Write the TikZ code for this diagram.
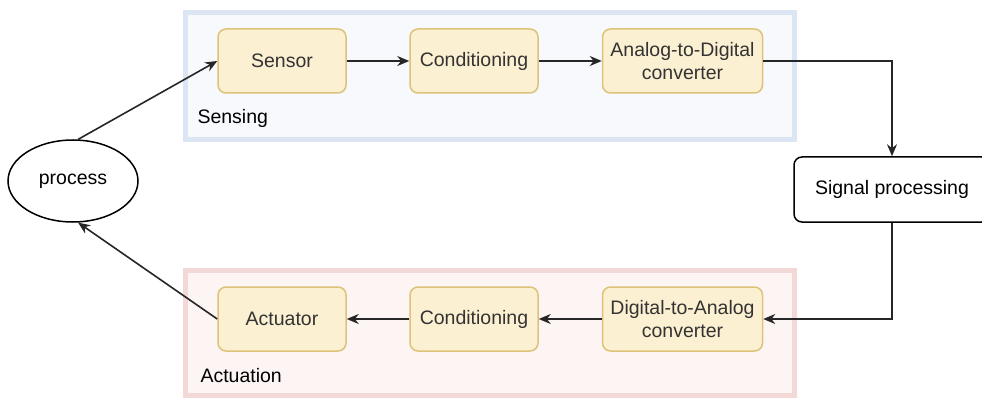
\documentclass[tikz,border=0pt]{standalone}
\usepackage{fontspec}
\setmainfont{Liberation Sans}
\usetikzlibrary{arrows.meta,shapes.geometric}
\definecolor{stagefill}{HTML}{FCF0D2}
\definecolor{stageline}{HTML}{DDC27A}
\definecolor{senseline}{HTML}{DCE5F4}
\definecolor{sensefill}{HTML}{F7F9FD}
\definecolor{actline}{HTML}{F3D8D8}
\definecolor{actfill}{HTML}{FDF4F4}
\definecolor{txt}{HTML}{333333}
\tikzset{
  every node/.style={font=\fontsize{19.5}{23}\selectfont},
  stage/.style={draw=stageline, fill=stagefill, line width=1.5pt, rounded corners=8pt,
    minimum width=128pt, minimum height=64pt, align=center, text=txt, inner sep=1pt},
  widestage/.style={stage, minimum width=160pt},
  group/.style={line width=5pt},
  flow/.style={draw=black!85, line width=1.6pt, -{Stealth[length=12pt,width=10pt]}},
}
\begin{document}
\begin{tikzpicture}[x=1pt,y=-1pt]
\useasboundingbox (0,0) rectangle (982,398);
% group panels
\draw[group, draw=senseline, fill=sensefill] (185.5,12.5) rectangle (794.5,140);
\draw[group, draw=actline, fill=actfill] (185.5,270) rectangle (794.5,395.5);
\node[anchor=west] (senselbl) at (194,118) {Sensing};
\node[anchor=west] (actlbl) at (197,376) {Actuation};
% sensing chain
\node[stage] (sensor) at (282,61) {Sensor};
\node[stage] (condin) at (474,61) {Conditioning};
\node[widestage] (adc) at (682.5,61) {Analog-to-Digital\\converter};
% actuation chain
\node[stage] (actuator) at (282,319) {Actuator};
\node[stage] (condout) at (474,319) {Conditioning};
\node[widestage] (dac) at (682.5,319) {Digital-to-Analog\\converter};
% processing
\node[draw, line width=1.5pt, rounded corners=8pt, minimum width=196pt, minimum height=65pt]
  (dsp) at (892,189.5) {Signal processing};
\node[draw, ellipse, line width=1.5pt, minimum width=130pt, minimum height=82pt]
  (proc) at (73,181) {process};
% connectors
\draw[flow] (proc.83) -- (sensor.west);
\draw[flow] (sensor) -- (condin);
\draw[flow] (condin) -- (adc);
\draw[flow] (adc.east) -| (dsp.north);
\draw[flow] (dsp.south) |- (dac.east);
\draw[flow] (dac) -- (condout);
\draw[flow] (condout) -- (actuator);
\draw[flow] (actuator.west) -- (proc.-83);
\end{tikzpicture}
\end{document}
